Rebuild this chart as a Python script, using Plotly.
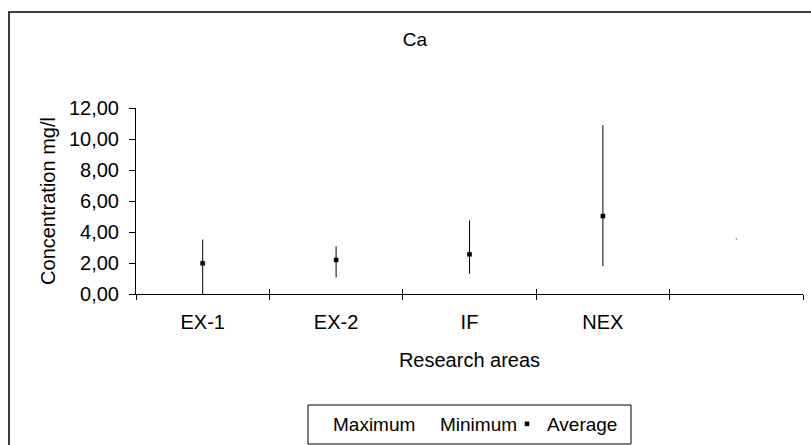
import plotly.graph_objects as go

# Calcium concentration per research area (mg/l)
areas = ["EX-1", "EX-2", "IF", "NEX", " "]
maximum = [3.52, 3.08, 4.75, 10.90, 3.58]
minimum = [0.00, 1.07, 1.31, 1.80, 3.52]
average = [1.98, 2.20, 2.56, 5.03, None]

y_ticks = [0, 2, 4, 6, 8, 10, 12]

FONT = "Arial, Liberation Sans, sans-serif"
W, H = 811, 445
ML, MR, MT, MB = 136, 8, 108, 151
plot_w = W - ML - MR
plot_h = H - MT - MB


def px_to_paper_x(px):
    return (px - ML) / plot_w


def px_to_paper_y(py):
    return (H - MB - py) / plot_h


# high-low segments built from the min/max series
hl_x, hl_y = [], []
for a, lo, hi in zip(areas, minimum, maximum):
    hl_x += [a, a, None]
    hl_y += [lo, hi, None]

hidden_marker = dict(symbol="line-ew", size=6, color="rgba(0,0,0,0)",
                     line=dict(width=0, color="rgba(0,0,0,0)"))

fig = go.Figure()

fig.add_trace(go.Scatter(
    x=hl_x, y=hl_y, mode="lines",
    line=dict(color="black", width=1),
    showlegend=False, hoverinfo="skip",
))
fig.add_trace(go.Scatter(
    x=areas, y=maximum, name="Maximum", mode="markers", marker=hidden_marker,
))
fig.add_trace(go.Scatter(
    x=areas, y=minimum, name="Minimum", mode="markers", marker=hidden_marker,
))
fig.add_trace(go.Scatter(
    x=areas, y=average, name="Average", mode="markers",
    marker=dict(symbol="square", size=4, color="black",
                line=dict(width=0.6, color="black")),
))
# empty trailing legend slot so the last label is not clipped by the legend box
fig.add_trace(go.Scatter(
    x=[None], y=[None], name=" ", mode="markers", marker=hidden_marker,
    hoverinfo="skip",
))
# invisible companion trace that carries the category set for the tick overlay axis
fig.add_trace(go.Scatter(
    x=areas, y=[None] * len(areas), xaxis="x2", mode="markers",
    showlegend=False, hoverinfo="skip",
))

fig.update_layout(
    width=W, height=H, autosize=False,
    margin=dict(l=ML, r=MR, t=MT, b=MB, pad=0),
    paper_bgcolor="white", plot_bgcolor="white",
    separators=",.",
    font=dict(family=FONT, size=20, color="black"),
    title=dict(text="Ca", font=dict(family=FONT, size=19, color="black"),
               xref="container", x=415 / W, xanchor="center",
               yref="container", y=1 - 39 / H, yanchor="middle"),
    xaxis=dict(
        type="category", categoryorder="array", categoryarray=areas,
        range=[-0.5, len(areas) - 0.5],
        showline=True, linecolor="black", linewidth=1,
        ticks="outside", tickson="boundaries", ticklen=5, tickwidth=1, tickcolor="black",
        showgrid=False, zeroline=False,
        tickfont=dict(family=FONT, size=20, color="black"),
        ticklabelstandoff=10,
        title=dict(text="Research areas", standoff=20,
                   font=dict(family=FONT, size=20, color="black")),
        automargin=False,
    ),
    xaxis2=dict(
        type="category", categoryorder="array", categoryarray=areas,
        range=[-0.5, len(areas) - 0.5],
        overlaying="x", anchor="y", side="bottom",
        showline=False, showgrid=False, zeroline=False,
        ticks="inside", tickson="boundaries", ticklen=5, tickwidth=1, tickcolor="black",
        showticklabels=False, automargin=False,
    ),
    yaxis=dict(
        range=[0, 12], tickvals=y_ticks, tickformat=".2f",
        showline=True, linecolor="black", linewidth=1,
        ticks="outside", ticklen=6, tickwidth=1, tickcolor="black",
        showgrid=False, zeroline=False,
        tickfont=dict(family=FONT, size=20, color="black"),
        ticklabelstandoff=6,
        title=dict(text="Concentration mg/l", standoff=7,
                   font=dict(family=FONT, size=20, color="black")),
        automargin=False,
    ),
    legend=dict(
        orientation="h",
        xref="container", x=293 / W, xanchor="left",
        yref="container", y=1 - 424 / H, yanchor="middle",
        bgcolor="rgba(0,0,0,0)", borderwidth=0,
        font=dict(family=FONT, size=19, color="black"),
        entrywidth=62, entrywidthmode="pixels", itemwidth=30,
    ),
    shapes=[
        # outer chart frame
        dict(type="rect", xref="paper", yref="paper", layer="below",
             x0=px_to_paper_x(9), x1=px_to_paper_x(W + 12),
             y0=px_to_paper_y(H + 12), y1=px_to_paper_y(12),
             line=dict(color="black", width=1.5), fillcolor="rgba(0,0,0,0)"),
        # legend frame
        dict(type="rect", xref="paper", yref="paper",
             x0=px_to_paper_x(308), x1=px_to_paper_x(631),
             y0=px_to_paper_y(444), y1=px_to_paper_y(405),
             line=dict(color="black", width=1), fillcolor="rgba(0,0,0,0)"),
    ],
    showlegend=True,
    hovermode="closest",
)

fig.write_html("out.html", config=dict(displayModeBar=False))
